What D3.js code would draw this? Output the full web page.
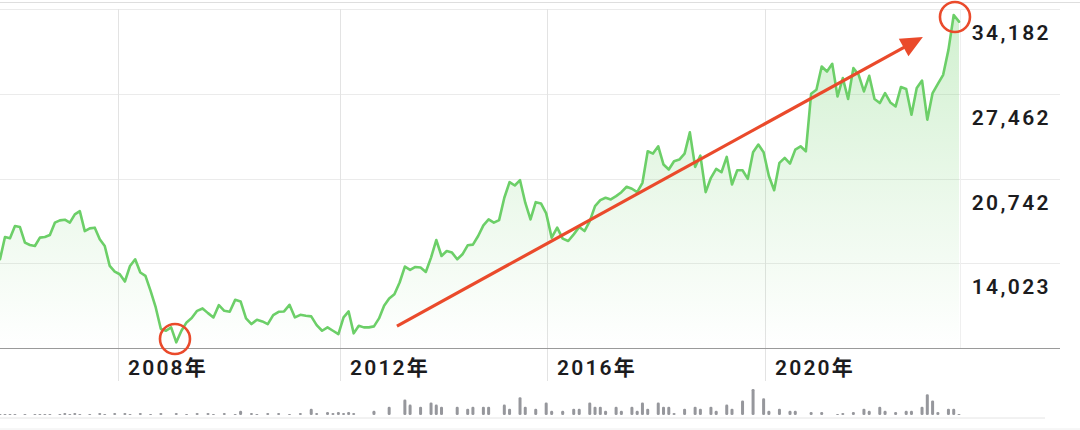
<!DOCTYPE html>
<html><head><meta charset="utf-8">
<script src="https://cdn.jsdelivr.net/npm/d3@7"></script>
<style>html,body{margin:0;padding:0;background:#fff;overflow:hidden}</style>
</head><body>
<svg id="chart" width="1080" height="430"></svg>
<script>
// ---- data ----
// sampling dates: points are evenly spaced between these anchor points
const anchorIndex = [0, 38, 75, 111, 147, 183];
const anchorDates = ["2005-10-23", "2009-04-30", "2012-12-13", "2016-08-04", "2020-01-27", "2023-07-24"];
const values = [
14338,16101,15998,16971,16892,15658,15468,15389,16054,16101,16259,17239,17421,17477,17239,17896,18157,16575,16789,16844,15919,15389,13808,13366,13152,12575,13808,14338,13287,13018,11832,10520,8804,8670,8938,7752,8670,9334,9674,
10251,10440,10069,9729,10701,10251,10172,11120,10994,9650,9199,9539,9413,9199,9911,10172,10203,10725,9729,9935,9856,9808,9120,8670,8938,8670,8408,9729,10203,8464,9065,8938,8938,9017,9650,10646,11231,
11571,12496,13761,13492,13729,13682,13334,14472,15864,14599,14994,14868,14338,14733,15445,15500,16180,17026,17500,17239,17445,19216,20449,20188,20608,18821,17500,18868,18765,17975,16054,16844,15975,15785,16314,16892,
16575,17366,18552,19026,19216,19082,19343,19659,20086,19928,19659,20402,22900,22718,23295,21849,21453,22109,22244,22718,24402,21667,22560,19659,20797,21509,21240,22457,20267,21398,21398,20718,22821,23430,22821,20939,
19817,21983,22378,21928,23035,23295,22900,27462,27778,29620,29225,29834,27249,28703,27043,29494,28964,27644,28885,27043,26727,27517,26774,26458,27992,27834,25802,27913,28513,25406,27517,28252,28964,30941,33708,33178
];
const volumes = [
1,1,1,1,0,1,0,1,1,1, 1,0,1,2,1,2,1,0,1,0, 2,1,0,2,0,2,1,0,2,0, 1,0,2,0,0,2,0,1,0,2,
0,2,1,0,2,0,1,4,0,2, 1,0,2,0,2,0,1,0,2,0, 6,2,0,3,2,3,2,3,2,0, 0,0,4,0,0,8,0,0,15,10,
0,8,0,12,10,8,0,0,8,0, 6,8,0,8,8,0,0,10,6,0, 17,8,0,6,0,12,4,0,4,0, 6,6,0,12,8,8,4,0,8,4,
0,8,4,12,6,0,12,8,8,2, 0,6,0,8,6,0,8,4,0,10, 6,0,14,0,25,0,16,4,0,6, 0,4,4,0,0,3,0,3,0,0,
1,2,0,3,0,6,4,0,8,4, 0,3,0,4,4,0,8,20,14,3, 0,6,6,1
];
const yTicks = [14023, 20742, 27462, 34182];
const yFloor = 7303;
const yearTicks = ["2008", "2012", "2016", "2020"];
const yearSuffix = "年";
const circleMarks = [{date:"2009-01-10", value:8013}, {date:"2023-06-27", value:33550}];
const arrowMark = {from:{date:"2013-02-06", value:9041}, to:{date:"2022-11-24", value:31968}};

// ---- layout ----
const W = 1080, H = 430;
const plotRight = 960, gridRight = 1060, plotTop = 9, base = 348;
const volBase = 415, volMax = 26;
const green = "#6ccf68", red = "#ea4a2b";

const parse = d3.timeParse("%Y-%m-%d");
const parseY = d3.timeParse("%Y");
const aDates = anchorDates.map(parse);
const dateAt = i => {
  let k = 0;
  while (k < anchorIndex.length - 2 && i > anchorIndex[k + 1]) k++;
  const f = (i - anchorIndex[k]) / (anchorIndex[k + 1] - anchorIndex[k]);
  return new Date(+aDates[k] + f * (aDates[k + 1] - aDates[k]));
};
const data = values.map((v, i) => ({date: dateAt(i), value: v, vol: volumes[i]}));

const tStart = aDates[0], tEnd = aDates[aDates.length - 1];
const x = d3.scaleTime()
  .domain([tStart, ...yearTicks.map(parseY), tEnd])
  .range([0, 118, 340, 547, 765, 959]);
const y = d3.scaleLinear().domain([yFloor, d3.max(yTicks)]).range([base, plotTop]);
const yv = d3.scaleLinear().domain([0, d3.max(volumes)]).range([0, volMax]);

const svg = d3.select("#chart");
const defs = svg.append("defs");
const grad = defs.append("linearGradient").attr("id", "fillGrad")
  .attr("gradientUnits", "userSpaceOnUse").attr("x1", 0).attr("x2", 0).attr("y1", plotTop).attr("y2", base);
grad.append("stop").attr("offset", 0).attr("stop-color", green).attr("stop-opacity", 0.32);
grad.append("stop").attr("offset", 0.6).attr("stop-color", green).attr("stop-opacity", 0.12);
grad.append("stop").attr("offset", 1).attr("stop-color", green).attr("stop-opacity", 0.0);

// top frame line
svg.append("line").attr("x1", 0).attr("x2", W).attr("y1", 2.5).attr("y2", 2.5).attr("stroke", "#dedede").attr("stroke-width", 1.2);

// horizontal gridlines
svg.append("g").selectAll("line").data(yTicks).join("line")
  .attr("x1", 0).attr("x2", gridRight)
  .attr("y1", d => Math.round(y(d)) + 0.5).attr("y2", d => Math.round(y(d)) + 0.5)
  .attr("stroke", "#ebebeb").attr("stroke-width", 1);

// vertical year gridlines
svg.append("g").selectAll("line").data(yearTicks).join("line")
  .attr("x1", d => Math.round(x(parseY(d))) + 0.5).attr("x2", d => Math.round(x(parseY(d))) + 0.5)
  .attr("y1", plotTop).attr("y2", 381)
  .attr("stroke", "#e3e3e3").attr("stroke-width", 1);
// right edge of the plot
svg.append("line").attr("x1", plotRight + 0.5).attr("x2", plotRight + 0.5).attr("y1", plotTop).attr("y2", base)
  .attr("stroke", "#efefef");

// area + line
const area = d3.area().x(d => x(d.date)).y0(base).y1(d => y(d.value)).curve(d3.curveLinear);
const line = d3.line().x(d => x(d.date)).y(d => y(d.value)).curve(d3.curveLinear);
svg.append("path").datum(data).attr("d", area).attr("fill", "url(#fillGrad)");
svg.append("path").datum(data).attr("d", line).attr("fill", "none")
  .attr("stroke", green).attr("stroke-width", 2.6).attr("stroke-linejoin", "round").attr("stroke-linecap", "round");

// baseline
svg.append("line").attr("x1", 0).attr("x2", gridRight).attr("y1", base + 0.5).attr("y2", base + 0.5)
  .attr("stroke", "#9a9a9a").attr("stroke-width", 1);

// y labels
svg.append("g").selectAll("text").data(yTicks).join("text")
  .attr("x", 1051).attr("y", d => y(d) + 24)
  .attr("text-anchor", "end").attr("dominant-baseline", "central")
  .attr("font-family", "Roboto, 'Noto Sans', sans-serif").attr("font-weight", 600)
  .attr("font-size", 21).attr("letter-spacing", 2.4).attr("fill", "#1c1c1e")
  .text(d => d3.format(",")(d));

// x labels
svg.append("g").selectAll("text").data(yearTicks).join("text")
  .attr("x", d => x(parseY(d)) + 10).attr("y", 368)
  .attr("dominant-baseline", "central")
  .attr("font-family", "Roboto, 'Noto Sans CJK SC', sans-serif").attr("font-weight", 600)
  .attr("font-size", 21).attr("letter-spacing", 2.2).attr("fill", "#1c1c1e")
  .text(d => d + yearSuffix);

// volume
svg.append("line").attr("x1", 0).attr("x2", 1045).attr("y1", 418).attr("y2", 418).attr("stroke", "#e4e4e4");
svg.append("line").attr("x1", 0).attr("x2", W).attr("y1", 429).attr("y2", 429).attr("stroke", "#eeeeee");
svg.append("g").selectAll("rect").data(data.filter(d => d.vol > 0)).join("rect")
  .attr("x", d => x(d.date) - 1.5).attr("width", 3)
  .attr("y", d => volBase - yv(d.vol)).attr("height", d => yv(d.vol))
  .attr("rx", 1.3).attr("fill", "#96979c");

// annotations
svg.append("g").selectAll("circle").data(circleMarks).join("circle")
  .attr("cx", d => x(parse(d.date))).attr("cy", d => y(d.value)).attr("r", 15)
  .attr("fill", "none").attr("stroke", red).attr("stroke-width", 2.6);

const ax0 = x(parse(arrowMark.from.date)), ay0 = y(arrowMark.from.value);
const ax1 = x(parse(arrowMark.to.date)), ay1 = y(arrowMark.to.value);
const ang = Math.atan2(ay1 - ay0, ax1 - ax0);
const headLen = 22, headHalf = 10;
const bx = ax1 - headLen * Math.cos(ang), by = ay1 - headLen * Math.sin(ang);
svg.append("line").attr("x1", ax0).attr("y1", ay0).attr("x2", bx + 2 * Math.cos(ang)).attr("y2", by + 2 * Math.sin(ang))
  .attr("stroke", red).attr("stroke-width", 3.2);
svg.append("path").attr("d", d3.line()([
  [ax1, ay1],
  [bx + headHalf * Math.sin(ang), by - headHalf * Math.cos(ang)],
  [bx - headHalf * Math.sin(ang), by + headHalf * Math.cos(ang)]
]) + "Z").attr("fill", red);
</script>
</body></html>
